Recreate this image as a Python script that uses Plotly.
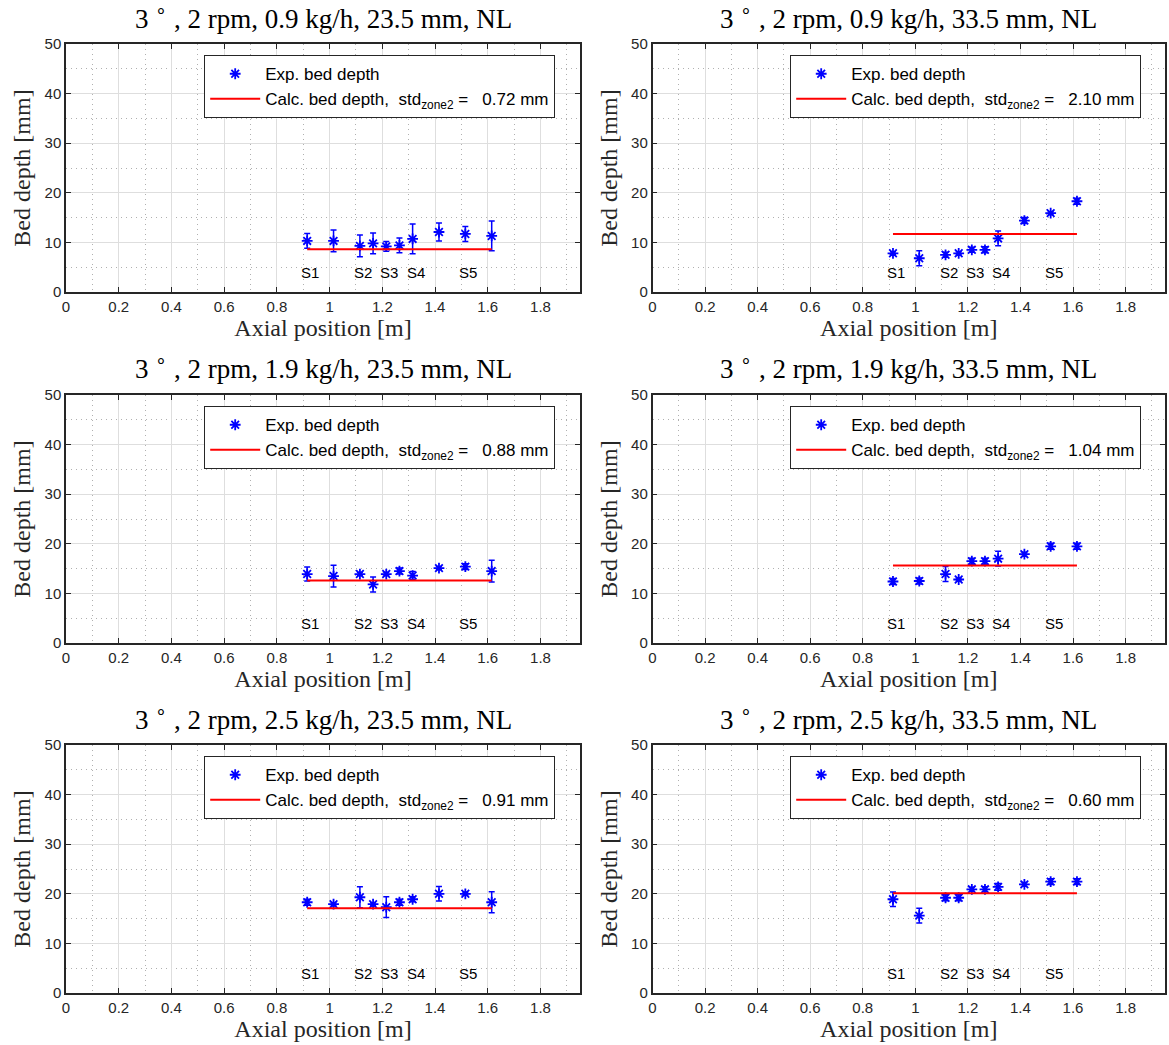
import plotly.graph_objects as go

# ---------------- data ----------------
x_pos = [0.915, 1.015, 1.115, 1.165, 1.215, 1.265, 1.315, 1.415, 1.515, 1.615]

feed_rates = ["0.9", "0.9", "1.9", "1.9", "2.5", "2.5"]
dam_heights = ["23.5", "33.5", "23.5", "33.5", "23.5", "33.5"]

depth_a = [10.3, 10.3, 9.3, 9.8, 9.2, 9.4, 10.7, 12.1, 11.7, 11.3]
err_a = [1.5, 2.2, 2.2, 2.1, 1.0, 1.5, 3.0, 1.8, 1.5, 3.0]
depth_b = [7.8, 6.8, 7.5, 7.8, 8.5, 8.5, 10.8, 14.4, 15.9, 18.3]
err_b = [0.3, 1.5, 0.5, 0.3, 0.5, 0.6, 1.5, 0.6, 0.3, 0.6]
depth_c = [13.9, 13.5, 13.9, 11.8, 13.9, 14.5, 13.6, 15.1, 15.4, 14.5]
err_c = [1.4, 2.2, 0.3, 1.5, 0.3, 0.6, 0.8, 0.3, 0.6, 2.2]
depth_d = [12.4, 12.5, 13.9, 12.8, 16.5, 16.5, 17.0, 17.9, 19.5, 19.5]
err_d = [0.6, 0.6, 1.5, 0.3, 0.6, 0.6, 1.5, 0.4, 0.6, 0.6]
depth_e = [18.3, 17.9, 19.3, 17.9, 17.3, 18.3, 18.9, 20.0, 20.0, 18.3]
err_e = [0.6, 0.3, 2.1, 0.3, 2.1, 0.6, 0.5, 1.45, 0.3, 2.1]
depth_f = [18.9, 15.6, 19.2, 19.2, 20.9, 20.9, 21.4, 21.9, 22.45, 22.45]
err_f = [1.45, 1.5, 0.6, 0.6, 0.4, 0.5, 0.7, 0.4, 0.6, 0.6]

calc_depth = [8.6, 11.7, 12.6, 15.6, 17.1, 20.1]
std_zone2 = ["0.72", "2.10", "0.88", "1.04", "0.91", "0.60"]

sensor_labels = ["S1", "S2", "S3", "S4", "S5"]
sensor_x = [0.915, 1.115, 1.215, 1.315, 1.515]
sensor_y = 4

x_ticks = [0, 0.2, 0.4, 0.6, 0.8, 1, 1.2, 1.4, 1.6, 1.8]
x_ticktext = ["0", "0.2", "0.4", "0.6", "0.8", "1", "1.2", "1.4", "1.6", "1.8"]
y_ticks = [0, 10, 20, 30, 40, 50]
y_ticktext = ["0", "10", "20", "30", "40", "50"]

depths = [depth_a, depth_b, depth_c, depth_d, depth_e, depth_f]
errs = [err_a, err_b, err_c, err_d, err_e, err_f]

# ---------------- layout geometry ----------------
W, H = 1169, 1045
col_px = [(66, 580), (652.5, 1165)]
row_px = [(44, 292), (395, 643), (745, 993)]
legend_left_px = [204, 790]
legend_top_px = [55, 406, 756]
title_y_px = [17, 367, 718]

AX = "#262626"
SANS = "Liberation Sans, Arial, sans-serif"
SERIF = "Liberation Serif, Times New Roman, serif"

fig = go.Figure()
annotations = []
layout = {}

for i in range(6):
    r, c = divmod(i, 2)
    n = i + 1
    xa = "x" if n == 1 else f"x{n}"
    ya = "y" if n == 1 else f"y{n}"
    leg = "legend" if n == 1 else f"legend{n}"

    fig.add_trace(go.Scatter(
        x=x_pos, y=depths[i], mode="markers",
        marker=dict(symbol="asterisk-open", size=9, color="blue",
                    line=dict(color="blue", width=1.8)),
        error_y=dict(type="data", array=errs[i], visible=True,
                     color="blue", thickness=1.5, width=3),
        name="Exp. bed depth", xaxis=xa, yaxis=ya, legend=leg,
    ))
    fig.add_trace(go.Scatter(
        x=[x_pos[0], x_pos[-1]], y=[calc_depth[i], calc_depth[i]],
        mode="lines", line=dict(color="red", width=2),
        name=f"Calc. bed depth,\u00a0 std<sub>zone2</sub> =\u00a0\u00a0 {std_zone2[i]} mm",
        xaxis=xa, yaxis=ya, legend=leg,
    ))

    x0, x1 = col_px[c]
    y0, y1 = row_px[r]
    xkey = "xaxis" if n == 1 else f"xaxis{n}"
    ykey = "yaxis" if n == 1 else f"yaxis{n}"
    layout[xkey] = dict(
        domain=[x0 / W, x1 / W], anchor=ya, range=[0, 1.95],
        tickvals=x_ticks, ticktext=x_ticktext, automargin=False,
        ticks="inside", ticklen=5, tickcolor=AX, tickwidth=1,
        showline=True, linecolor=AX, linewidth=1.5, mirror="ticks",
        showgrid=True, gridcolor="#dedede", gridwidth=1,
        minor=dict(dtick=0.1, tick0=0, showgrid=True, gridcolor="#b0b0b0",
                   griddash="1px,4px", gridwidth=1),
        zeroline=False, tickfont=dict(family=SANS, size=15, color=AX),
        title=dict(text="Axial position [m]", font=dict(family=SERIF, size=24, color=AX),
                   standoff=0),
    )
    layout[ykey] = dict(
        domain=[1 - y1 / H, 1 - y0 / H], anchor=xa, range=[0, 50],
        tickvals=y_ticks, ticktext=y_ticktext, automargin=False,
        ticks="inside", ticklen=5, tickcolor=AX, tickwidth=1,
        showline=True, linecolor=AX, linewidth=1.5, mirror="ticks",
        showgrid=True, gridcolor="#dedede", gridwidth=1,
        minor=dict(dtick=5, tick0=0, showgrid=True, gridcolor="#b0b0b0",
                   griddash="1px,4px", gridwidth=1),
        zeroline=False, tickfont=dict(family=SANS, size=15, color=AX),
        title=dict(text="Bed depth [mm]", font=dict(family=SERIF, size=24, color=AX),
                   standoff=7),
    )
    layout[leg] = dict(
        x=legend_left_px[c] / W, y=1 - legend_top_px[r] / H,
        xanchor="left", yanchor="top", xref="paper", yref="paper",
        bgcolor="white", bordercolor=AX, borderwidth=1.2,
        font=dict(family=SANS, size=17, color="black"),
        tracegroupgap=0, itemwidth=50,
    )

    # title
    annotations.append(dict(
        text=f"3 <sup>∘</sup> , 2 rpm, {feed_rates[i]} kg/h, {dam_heights[i]} mm, NL",
        x=(x0 + x1) / 2 / W, y=1 - title_y_px[r] / H, xref="paper", yref="paper",
        xanchor="center", yanchor="middle", showarrow=False,
        font=dict(family=SERIF, size=27, color="black"),
    ))
    # sensor labels
    for lbl, sx in zip(sensor_labels, sensor_x):
        annotations.append(dict(
            text=lbl, x=sx, y=sensor_y, xref=xa, yref=ya, xshift=3,
            xanchor="center", yanchor="middle", showarrow=False,
            font=dict(family=SANS, size=15, color="black"),
        ))

fig.update_layout(
    **layout,
    annotations=annotations,
    width=W, height=H,
    margin=dict(l=0, r=0, t=0, b=0, autoexpand=False),
    paper_bgcolor="white", plot_bgcolor="white",
    showlegend=True,
)

fig.write_html(
    "out.html",
    config={"displayModeBar": False},
    post_script="document.body.style.margin='0';document.body.style.padding='0';",
)
